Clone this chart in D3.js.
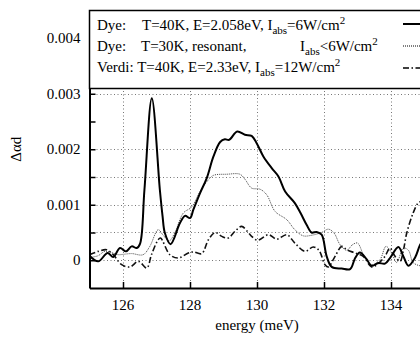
<!DOCTYPE html>
<html>
<head>
<meta charset="utf-8">
<script src="https://d3js.org/d3.v7.min.js"></script>
<style>
  body { margin: 0; background: #fff; }
</style>
</head>
<body>
<script>
// Dye, T=40K, E=2.058eV (solid)
var dye40_energy = [125.0, 125.26, 125.54, 125.71, 125.91, 126.09, 126.26, 126.41, 126.51, 126.64,
  126.86, 127.10, 127.18, 127.25, 127.42, 127.70, 127.85, 128.0, 128.1, 128.3, 128.5, 128.7, 128.9,
  129.04, 129.17, 129.41, 129.64, 129.84, 129.99, 130.19, 130.44, 130.64, 130.84, 131.13, 131.3,
  131.48, 131.63, 131.78, 131.93, 132.08, 132.23, 132.53, 132.78, 132.93, 133.07, 133.27, 133.42,
  133.62, 133.82, 133.97, 134.22, 134.37, 134.52, 134.72, 134.87, 135.0];
var dye40_value = [0.00008, -0.00002, 0.00013, 0.00006, 0.00022, 0.00016, 0.00025, 0.00022, 0.0003, 0.00127,
  0.00292, 0.00127, 0.0008, 0.00049, 0.00029, 0.00067, 0.0008, 0.00076, 0.00091, 0.00121, 0.00148, 0.00187, 0.00213,
  0.00218, 0.00217, 0.00232, 0.00226, 0.00224, 0.00211, 0.00187, 0.00166, 0.00151, 0.00124, 0.00103, 0.00085,
  0.00064, 0.0005, 0.00051, 0.00046, 0.00007, -0.00012, -0.00015, -0.00016, 0.00004, 0.00014, 0.00002, -0.0001,
  -0.00005, -0.00006, 0.00004, 0.00024, 0.00007, -0.0001, 0.00005, 0.00028, 0.0004];

// Dye, T=30K, resonant (dotted)
var dye30_energy = [125.0, 125.25, 125.46, 125.65, 125.85, 126.05, 126.26, 126.6, 126.8, 127.05,
  127.2, 127.38, 127.55, 127.8, 128.05, 128.3, 128.55, 128.7, 129.1, 129.49, 129.64, 129.84, 130.09,
  130.29, 130.54, 130.89, 131.13, 131.38, 131.63, 131.93, 132.13, 132.3, 132.48, 132.68, 132.85, 133.0,
  133.2, 133.42, 133.67, 133.85, 134.02, 134.17, 134.37, 134.52, 134.66, 134.87, 135.0];
var dye30_value = [0.00005, 0.00008, 0.00016, 0.00014, 0.0001, 0.00011, 0.00012, 0.0001, 0.00025, 0.00055,
  0.00045, 0.00035, 0.0005, 0.00085, 0.00096, 0.00124, 0.00145, 0.00153, 0.00155, 0.00155, 0.00146, 0.0013, 0.00128,
  0.00118, 0.00088, 0.00073, 0.00055, 0.00044, 0.00045, 0.0005, 0.00056, 0.00049, 0.00028, 0.00018, 0.00028, 0.00031,
  0.00007, -0.00008, 0.00001, 0.00025, 0.00013, -0.00004, 0.00022, 0.00018, -0.00004, -0.0001, -0.0001];

// Verdi, T=40K, E=2.33eV (dash-dot)
var verdi_energy = [125.0, 125.26, 125.51, 125.71, 125.96, 126.21, 126.46, 126.71, 126.85, 127.05,
  127.12, 127.4, 127.65, 127.95, 128.1, 128.35, 128.55, 128.75, 128.95, 129.14, 129.34, 129.54, 129.74,
  129.84, 130.02, 130.34, 130.59, 130.89, 131.13, 131.43, 131.68, 131.85, 132.03, 132.13, 132.33, 132.53,
  132.68, 132.93, 133.17, 133.42, 133.62, 133.82, 133.97, 134.12, 134.27, 134.37, 134.47, 134.66, 134.81,
  134.9, 135.0];
var verdi_value = [0.0001, 0.00016, 0.00019, 0.0001, -0.00008, -0.00012, -0.00002, -0.00014, 0.0001, 0.00037,
  0.0004, 0.0001, 0.00004, 0.00013, 0.00015, 0.00012, 0.00037, 0.0005, 0.00043, 0.0004, 0.00052, 0.00061, 0.0005,
  0.00043, 0.00036, 0.00046, 0.00038, 0.00046, 0.00031, 0.00016, 0.00024, 0.00018, -0.00008, -0.00012, 0.00007, 0.00025,
  0.00019, 0.00013, 0.00007, -0.00012, -0.00006, 0.00007, 0.00022, 0.00007, -0.00002, 0.00018, 0.00049, 0.00085, 0.00103,
  0.00106, 0.00108];

var x_ticks = [126, 128, 130, 132, 134];
var y_ticks = [0, 0.001, 0.002, 0.003, 0.004];
var y_minor_ticks = [0.0005, 0.0015, 0.0025, 0.0035];
var y_grid = [0, 0.0005, 0.001, 0.0015, 0.002, 0.003];

var chart = (function(){
  var svg, x, y,
      w = 420,
      h = 339,
      x0 = 89.5,
      x1 = 424.5,
      y0 = 10.5,
      y1 = 288;

  function chart(){
    svg = d3.select("body").append("svg").attr("width", w).attr("height", h);
    x = d3.scaleLinear().domain([125, 135]).range([x0, x1]);
    y = d3.scaleLinear().domain([-0.0005, 0.0045]).range([y1, y0]);

    var layer_grid = svg.append("g"),
        layer_lines = svg.append("g"),
        layer_axes = svg.append("g"),
        layer_legend = svg.append("g"),
        layer_text = svg.append("g");

    // text first, so nothing else is in the document when the labels are laid out
    draw_text(layer_text);
    draw_legend_box(layer_legend);
    draw_grid(layer_grid);
    draw_lines(layer_lines);
    draw_axes(layer_axes);
  }

  function label(parent, str, size){
    var t = parent.append("text")
      .attr("font-family", "Liberation Serif")
      .attr("font-size", size)
      .attr("fill", "#000")
      .style("font-family", "'Liberation Serif'");
    if (str !== null) t.text(str);
    return t;
  }

  function draw_text(g){
    var fmt = function(d){ return d === 0 ? "0" : d3.format(".3f")(d); };

    y_ticks.forEach(function(d){
      label(g, fmt(d), 15).attr("x", x0 - 9).attr("y", y(d) + 5).attr("text-anchor", "end");
    });
    x_ticks.forEach(function(d){
      label(g, String(d), 15).attr("x", x(d)).attr("y", 310).attr("text-anchor", "middle");
    });
    label(g, "\u0394\u03b1d", 15)
      .attr("transform", "translate(21," + y(0.002) + ") rotate(-90)")
      .attr("text-anchor", "middle");
    label(g, "energy (meV)", 15).attr("x", x(130)).attr("y", 330).attr("text-anchor", "middle");

    var rows = [
      { y: 30, parts: [["Dye:", 97], ["T=40K, E=2.058eV, I", 142]], rest: "=6W/cm" },
      { y: 51, parts: [["Dye:", 97], ["T=30K, resonant,", 141], ["I", 300]], rest: "<6W/cm" },
      { y: 72, parts: [["Verdi: T=40K, E=2.33eV, I", 97]], rest: "=12W/cm" }
    ];
    rows.forEach(function(r){
      var t = label(g, null, 15).attr("y", r.y);
      r.parts.forEach(function(p){
        t.append("tspan").attr("x", p[1]).attr("y", r.y).text(p[0]);
      });
      t.append("tspan").attr("font-size", 11).attr("dy", 4).text("abs");
      t.append("tspan").attr("dy", -4).text(r.rest);
      t.append("tspan").attr("font-size", 11).attr("dy", -6).text("2");
    });
  }

  function draw_legend_box(g){
    g.append("rect")
      .attr("x", x0).attr("y", y0)
      .attr("width", 345).attr("height", 78)
      .attr("fill", "#fff").attr("stroke", "#000").attr("stroke-width", 1.5);

    var samples = [
      { y: 24, dash: null, sw: 2 },
      { y: 46, dash: "1,1", sw: 1 },
      { y: 68, dash: "6,2.5,1.5,2.5", sw: 1.6 }
    ];
    samples.forEach(function(s){
      g.append("line")
        .attr("x1", 403).attr("x2", 430)
        .attr("y1", s.y).attr("y2", s.y)
        .attr("stroke", "#000").attr("stroke-width", s.sw)
        .attr("stroke-dasharray", s.dash);
    });
  }

  function draw_grid(g){
    g.attr("stroke", "#777").attr("stroke-width", 1).attr("stroke-dasharray", "1,2.5");
    g.selectAll("line.h").data(y_grid).enter().append("line")
      .attr("x1", x0).attr("x2", x1)
      .attr("y1", function(d){ return Math.round(y(d)) + 0.5; })
      .attr("y2", function(d){ return Math.round(y(d)) + 0.5; });
    g.selectAll("line.v").data(x_ticks).enter().append("line")
      .attr("y1", y0).attr("y2", y1)
      .attr("x1", function(d){ return Math.round(x(d)) + 0.5; })
      .attr("x2", function(d){ return Math.round(x(d)) + 0.5; });
  }

  function series(energy, value){
    return energy.map(function(e, i){ return [e, value[i]]; });
  }

  function draw_lines(g){
    var line = d3.line()
      .x(function(d){ return x(d[0]); })
      .y(function(d){ return y(d[1]); })
      .curve(d3.curveCatmullRom.alpha(0.5));

    svg.append("clipPath").attr("id", "plot_clip")
      .append("rect")
      .attr("x", x0).attr("y", y0)
      .attr("width", x1 - x0).attr("height", y1 - y0);

    g.attr("clip-path", "url(#plot_clip)").attr("fill", "none");

    g.append("path").datum(series(verdi_energy, verdi_value))
      .attr("d", line).attr("stroke", "#111").attr("stroke-width", 1.6)
      .attr("stroke-dasharray", "6,2.5,1.5,2.5");
    g.append("path").datum(series(dye30_energy, dye30_value))
      .attr("d", line).attr("stroke", "#444").attr("stroke-width", 1)
      .attr("stroke-dasharray", "1,1");
    g.append("path").datum(series(dye40_energy, dye40_value))
      .attr("d", line).attr("stroke", "#000").attr("stroke-width", 2);
  }

  function draw_axes(g){
    g.append("g").attr("transform", "translate(" + x0 + ",0)")
      .call(d3.axisLeft(y).tickValues(y_ticks.concat(y_minor_ticks)).tickFormat("").tickSize(-6).tickSizeOuter(0));
    g.append("g").attr("transform", "translate(0," + y1 + ")")
      .call(d3.axisBottom(x).tickValues(x_ticks).tickFormat("").tickSize(-6).tickSizeOuter(0));

    g.selectAll("g.tick text").remove();
    g.selectAll("g.tick line").attr("stroke", "#000").attr("stroke-width", 1.5);
    g.selectAll(".domain").attr("stroke", "#000").attr("stroke-width", 2);
  }

  return chart;
})();

chart();
</script>
</body>
</html>
